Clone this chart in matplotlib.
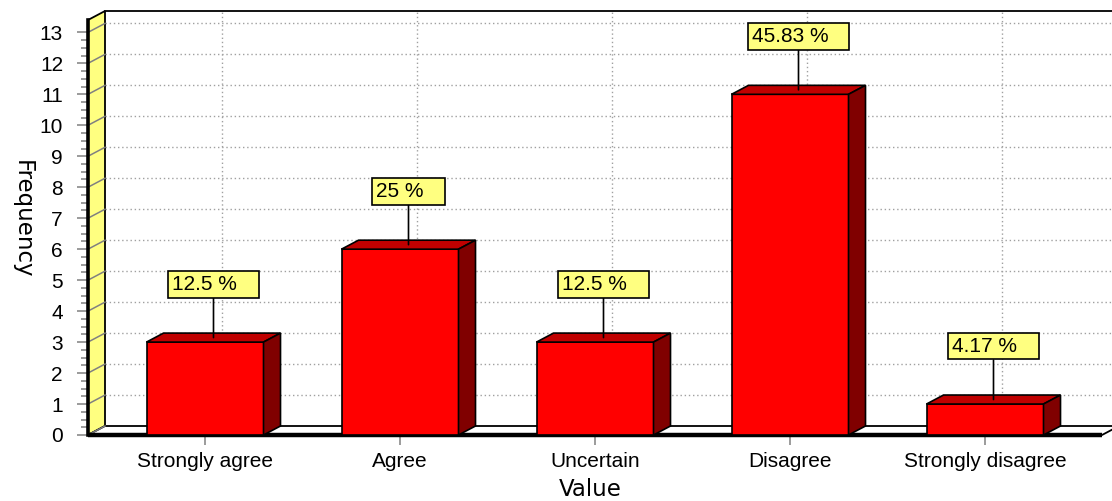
import numpy as np
import matplotlib
matplotlib.use('Agg')
import matplotlib.pyplot as plt
from matplotlib.patches import Polygon
from matplotlib.ticker import FixedLocator

categories = ['Strongly agree', 'Agree', 'Uncertain', 'Disagree', 'Strongly disagree']
frequency = [3, 6, 3, 11, 1]
percent_labels = ['12.5 %', '25 %', '12.5 %', '45.83 %', '4.17 %']
y_ticks = list(range(0, 14))

plt.rcParams['font.family'] = ['Liberation Sans', 'DejaVu Sans']

W, H = 1112, 501
fig = plt.figure(figsize=(W / 100, H / 100), dpi=100)
ax = fig.add_axes([88 / W, 66 / H, 1014 / W, 415 / H])

x0, x1 = -0.6, len(categories) - 0.4
ytop = 13.4
ax.set_xlim(x0, x1)
ax.set_ylim(0, ytop)
ax.patch.set_visible(False)
for s in ax.spines.values():
    s.set_visible(False)

# depth of the fake 3d box, 17 px right and 9 px up, in data units
DX = 17 / (1014 / (x1 - x0))
DY = 9 / (415 / ytop)

# back wall grid
for y in y_ticks[1:]:
    ax.plot([x0 + DX, x1 + DX], [y + DY, y + DY], color='#a0a0a0', lw=1.0,
            ls=(0, (1, 2)), zorder=1, clip_on=False)
for i in range(len(categories)):
    ax.plot([i + DX, i + DX], [DY, ytop + DY], color='#a0a0a0', lw=1.0,
            ls=(0, (1, 2)), zorder=1, clip_on=False)
# top edge of back wall
ax.plot([x0 + DX, x1 + DX], [ytop + DY, ytop + DY], color='black', lw=1.3,
        zorder=2, clip_on=False)

# left wall
wall = Polygon([(x0, 0), (x0, ytop), (x0 + DX, ytop + DY), (x0 + DX, DY)],
               closed=True, fc='#ffff80', ec='black', lw=1.3, zorder=3, clip_on=False)
ax.add_patch(wall)
for y in y_ticks:
    ax.plot([x0, x0 + DX], [y, y + DY], color='#808080', lw=1.1, zorder=4, clip_on=False)
ax.plot([x0, x0], [0, ytop], color='black', lw=2.6, zorder=5, clip_on=False)

# floor
floor = Polygon([(x0, 0), (x1, 0), (x1 + DX, DY), (x0 + DX, DY)],
                closed=True, fc='white', ec='black', lw=1.3, zorder=3, clip_on=False)
ax.add_patch(floor)
ax.plot([x0, x1], [0, 0], color='black', lw=3.2, zorder=5, clip_on=False,
        solid_capstyle='butt')

# bars
bw = 0.3
for i, v in enumerate(frequency):
    front = Polygon([(i - bw, 0), (i + bw, 0), (i + bw, v), (i - bw, v)],
                    closed=True, fc='#ff0000', ec='black', lw=1.2, zorder=6)
    top = Polygon([(i - bw, v), (i + bw, v), (i + bw + DX, v + DY), (i - bw + DX, v + DY)],
                  closed=True, fc='#c00000', ec='black', lw=1.2, zorder=6)
    side = Polygon([(i + bw, 0), (i + bw + DX, DY), (i + bw + DX, v + DY), (i + bw, v)],
                   closed=True, fc='#800000', ec='black', lw=1.2, zorder=6)
    for p in (front, top, side):
        ax.add_patch(p)
    ax.annotate(percent_labels[i] + '   ', xy=(i + DX / 2, v + DY / 2),
                xytext=(0, 44), textcoords='offset pixels', ha='center', va='bottom',
                fontsize=15, zorder=10,
                bbox=dict(boxstyle='square,pad=0.19', fc='#ffff80', ec='black', lw=1.2),
                arrowprops=dict(arrowstyle='-', color='black', lw=1.2, shrinkA=0, shrinkB=0))

# ticks
ax.set_yticks(y_ticks)
ax.yaxis.set_minor_locator(FixedLocator(np.arange(0, 13.01, 0.25)))
ax.tick_params(axis='y', which='major', length=8, width=1.1, color='#808080',
               pad=10, labelsize=15)
ax.tick_params(axis='y', which='minor', length=5, width=1.1, color='#808080')
ax.set_xticks(range(len(categories)))
ax.set_xticklabels(categories)
ax.tick_params(axis='x', length=7, width=1.1, color='#808080', pad=5, labelsize=15)

fig.text(22 / W, 1 - 219 / H, 'Frequency', rotation=270, ha='center', va='center',
         fontsize=16.5, family='DejaVu Sans')
fig.text(590 / W, 1 - 489 / H, 'Value', ha='center', va='center',
         fontsize=16.5, family='DejaVu Sans')

fig.savefig('out.png', dpi=100)
